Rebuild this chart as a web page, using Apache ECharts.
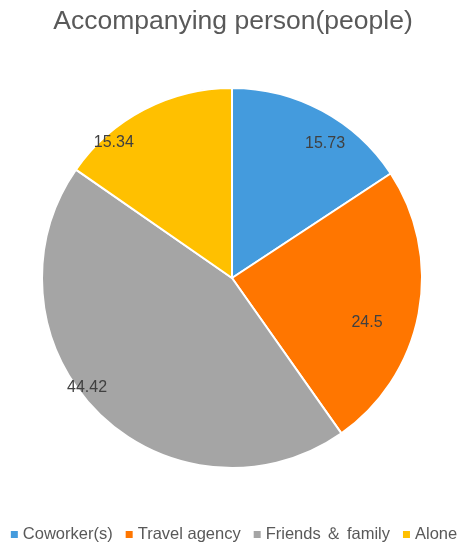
<!DOCTYPE html>
<html><head><meta charset="utf-8">
<script src="https://cdn.jsdelivr.net/npm/echarts@6/dist/echarts.min.js"></script>
<style>html,body{margin:0;padding:0;background:#fff}#c{width:466px;height:550px}</style>
</head><body><div id="c"></div>
<script>
const categories = ['Coworker(s)', 'Travel agency', 'Friends ＆ family', 'Alone'];
const values = [15.73, 24.5, 44.42, 15.34];
// styling only
const colors = ['#449BDD', '#FF7600', '#A5A5A5', '#FFC000'];
const labelOffsets = [[11, 18], [-35, 12], [-23, -13], [-38, 18]];
const FONT = 'Liberation Sans, Arial, sans-serif';
const baseData = categories.map((n, i) => ({ name: n, value: values[i] }));
const labelData = categories.map((n, i) => ({ name: n, value: values[i], label: { offset: labelOffsets[i] } }));
const chart = echarts.init(document.getElementById('c'));
chart.setOption({
  animation: false,
  color: colors,
  title: {
    text: 'Accompanying person(people)', left: 'center', top: 3,
    textStyle: { fontFamily: FONT, fontSize: 26.5, fontWeight: 'normal', color: '#595959' }
  },
  legend: {
    bottom: 2, left: 'center', icon: 'rect', itemWidth: 9, itemHeight: 9, itemGap: 11,
    textStyle: { fontFamily: FONT, fontSize: 16.5, color: '#595959', padding: [0, 0, 0, -1] },
    data: categories
  },
  series: [{
    type: 'pie', center: [232, 278], radius: 190, startAngle: 90, clockwise: true,
    itemStyle: { borderColor: '#fff', borderWidth: 2 },
    label: { show: false }, labelLine: { show: false },
    data: baseData
  }, {
    type: 'pie', center: [232, 278], radius: [150, 190], startAngle: 90, clockwise: true, silent: true,
    itemStyle: { color: 'rgba(0,0,0,0)' },
    label: { show: true, position: 'inside', formatter: '{c}', fontFamily: FONT, fontSize: 16, color: '#404040' },
    labelLine: { show: false },
    data: labelData
  }]
});
</script></body></html>
